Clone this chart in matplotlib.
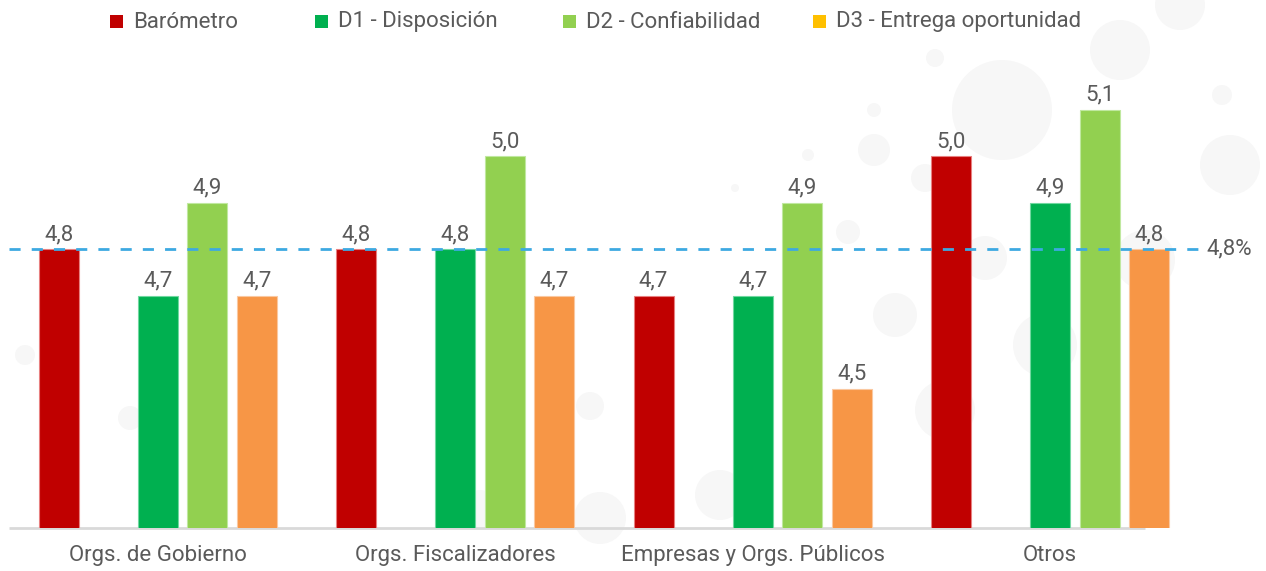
import matplotlib.pyplot as plt
import matplotlib.patches as mpatches
import numpy as np

plt.rcParams['font.family'] = ['Roboto', 'DejaVu Sans']

categories = ['Orgs. de Gobierno', 'Orgs. Fiscalizadores', 'Empresas y Orgs. Públicos', 'Otros']
series_names = ['Barómetro', 'D1 - Disposición', 'D2 - Confiabilidad', 'D3 - Entrega oportunidad']
barometro = [4.8, 4.8, 4.7, 5.0]
d1 = [4.7, 4.8, 4.7, 4.9]
d2 = [4.9, 5.0, 4.9, 5.1]
d3 = [4.7, 4.7, 4.5, 4.8]
promedio = 4.8

bar_colors = ['#C00000', '#00B050', '#92D050', '#F79646']
legend_colors = ['#C00000', '#00B050', '#92D050', '#FFC000']
edge_colors = ['#E88080', '#70D8A0', '#C0E8A0', '#FAC8A0']
text_color = '#5A5A5A'
fw = 'normal'

fig = plt.figure(figsize=(12.66, 5.71), dpi=100)
W, H = 1266, 571

# faint decorative bubbles (pixel coords, radius)
bubbles = [(1230, 165, 30), (1120, 50, 30), (1180, 5, 25), (1002, 110, 50), (1222, 95, 10),
           (874, 110, 7), (935, 58, 9), (985, 258, 22), (1045, 345, 32), (945, 410, 30),
           (895, 315, 22), (720, 495, 25), (600, 518, 26), (590, 406, 14), (848, 232, 12),
           (1145, 260, 30), (130, 418, 12), (25, 355, 10), (480, 510, 20), (925, 178, 14),
           (874, 150, 16), (808, 155, 6), (735, 188, 4)]
for bx, by, br in bubbles:
    fig.add_artist(mpatches.Ellipse((bx / W, 1 - by / H), 2 * br / W, 2 * br / H,
                                    transform=fig.transFigure, facecolor='#F7F7F7',
                                    edgecolor='none', zorder=0))

ax = fig.add_axes([9 / W, 1 - 528 / H, 1190 / W, (528 - 63.3) / H])
ax.patch.set_alpha(0)

x = np.arange(len(categories))
slot = 1 / 6
bw = 40 / 297.5
offsets = [-2, 0, 1, 2]
values = [barometro, d1, d2, d3]
for vals, off, col, ec in zip(values, offsets, bar_colors, edge_colors):
    bars = ax.bar(x + off * slot, vals, width=bw, color=col, edgecolor=ec, linewidth=0.8, zorder=2)
    for b, v in zip(bars, vals):
        ax.annotate(f'{v:.1f}'.replace('.', ','), (b.get_x() + b.get_width() / 2, v),
                    xytext=(0, 3), textcoords='offset points', ha='center', va='bottom',
                    fontsize=16, color=text_color, fontweight=fw)

ax.set_xlim(-0.5, 3.5)
ax.set_ylim(4.2, 5.2)
ax.plot([-0.5, 3.5], [promedio, promedio], color='#3DA9E1', lw=2, dashes=(4, 4),
        clip_on=False, zorder=3)
ax.text(3.525, promedio, f'{promedio:.1f}%'.replace('.', ','), va='center', ha='left',
        fontsize=16, color=text_color, fontweight=fw)

# baseline (ends before the last bar, as in the original)
ax.plot([-0.5, 3.318], [4.2, 4.2], color='#D9D9D9', lw=2, clip_on=False, zorder=1,
        solid_capstyle='butt')

for s in ['top', 'right', 'left', 'bottom']:
    ax.spines[s].set_visible(False)
ax.set_yticks([])
ax.set_xticks(x)
ax.set_xticklabels(categories, fontsize=16, color=text_color, fontweight=fw)
ax.tick_params(axis='x', length=0, pad=12)

# legend
leg_sq = [110, 315, 563, 813]
for px, name, col in zip(leg_sq, series_names, legend_colors):
    fig.add_artist(mpatches.Rectangle((px / W, 1 - 28 / H), 13 / W, 13 / H,
                                      transform=fig.transFigure, facecolor=col, edgecolor='none'))
    fig.text((px + 23) / W, 1 - 22 / H, name, fontsize=16, color=text_color, va='center',
             ha='left', fontweight=fw)

fig.savefig('out.png', dpi=100)
